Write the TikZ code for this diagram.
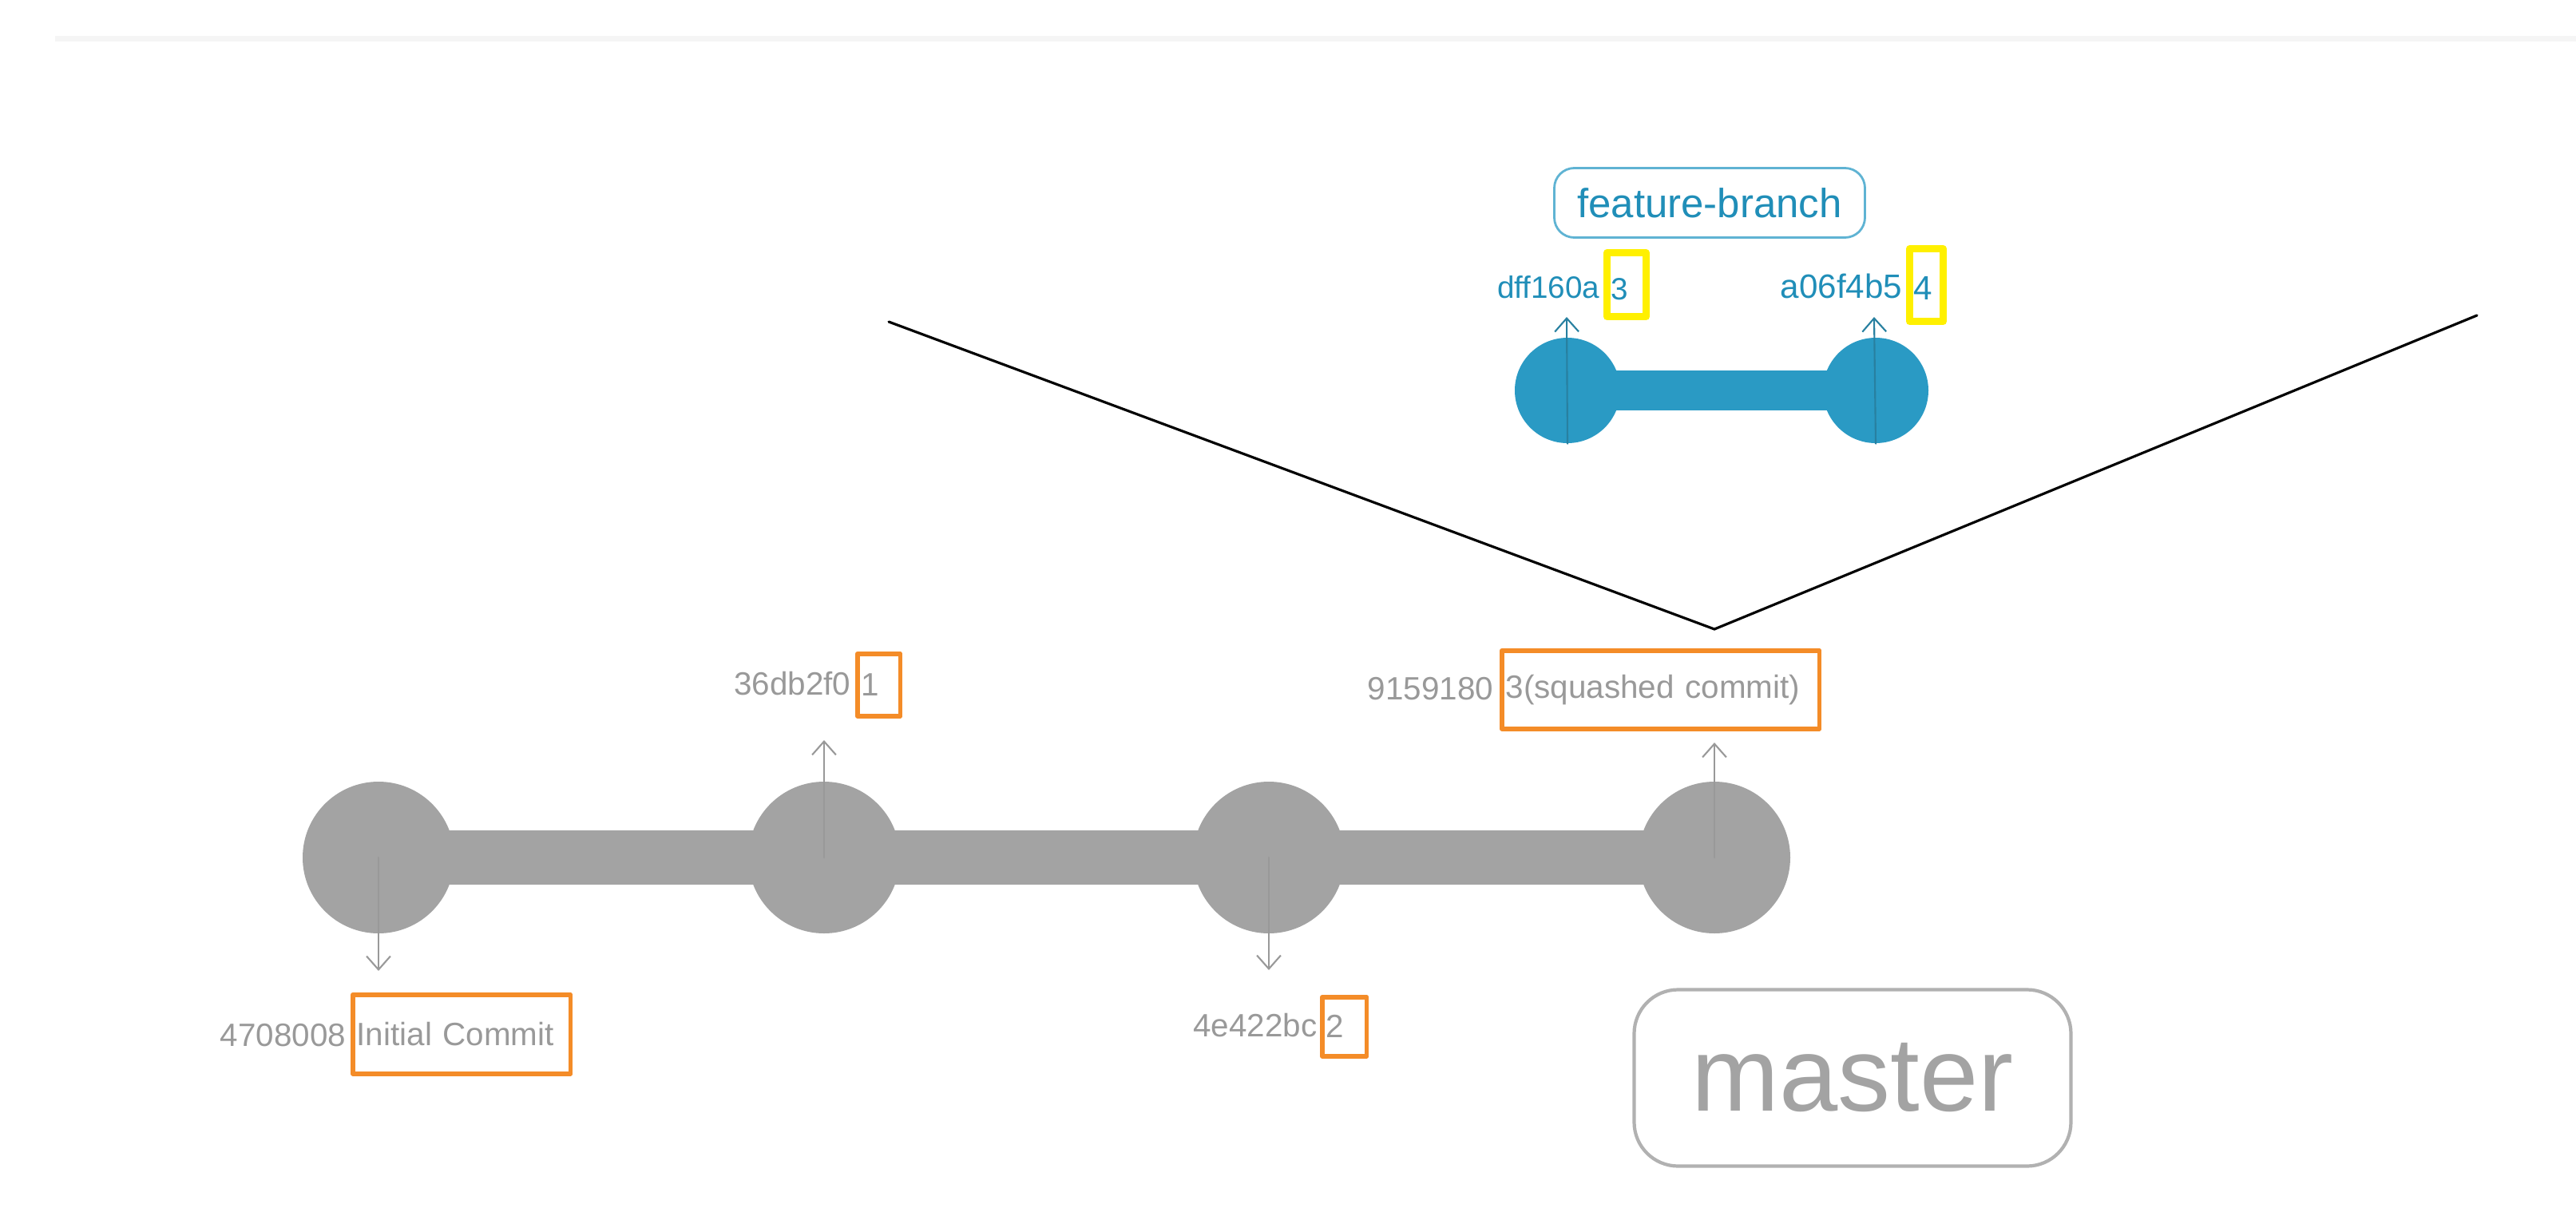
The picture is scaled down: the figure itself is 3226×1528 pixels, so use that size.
\documentclass[tikz,border=0pt]{standalone}
\usepackage{fontspec}
\setmainfont{Liberation Sans}
\usetikzlibrary{arrows.meta}
\definecolor{commitgray}{RGB}{163,163,163}
\definecolor{labelgray}{RGB}{153,153,153}
\definecolor{boxorange}{RGB}{244,140,40}
\definecolor{boxyellow}{RGB}{255,240,0}
\definecolor{branchblue}{RGB}{42,154,196}
\definecolor{branchtext}{RGB}{32,142,184}
\definecolor{branchline}{RGB}{40,128,160}
\definecolor{rulegray}{RGB}{245,245,245}
\tikzset{
  commit/.style={circle, fill=commitgray, minimum size=19mm, inner sep=0},
  fcommit/.style={circle, fill=branchblue, minimum size=13.2mm, inner sep=0},
  hashlbl/.style={text=labelgray, font=\fontsize{11.5}{13}\selectfont, inner sep=0, anchor=base east},
  fhashlbl/.style={text=branchtext, inner sep=0, anchor=base east},
  msgbox/.style={draw=boxorange, line width=1.6pt, text=labelgray, font=\fontsize{11.5}{13}\selectfont,
    inner xsep=1.4pt, inner ysep=0, align=left, anchor=north west},
  fmsgbox/.style={draw=boxyellow, line width=2.6pt, text=branchtext, text height=10.6pt,
    inner xsep=1.4pt, inner ysep=0, align=left, anchor=north west},
  ptr/.style={draw=labelgray, line width=0.6pt, -{Straight Barb[length=4.8pt,width=8.5pt]}},
  fptr/.style={draw=branchline, line width=0.6pt, -{Straight Barb[length=4.8pt,width=8.5pt]}},
}
\begin{document}
\begin{tikzpicture}[x=0.1mm, y=-0.1mm, line join=round, line cap=round]
\useasboundingbox (0,0) rectangle (3226,1528);
\fill[rulegray] (69,45) rectangle (3226,52);
% funnel
\coordinate (vl) at (1113,403);
\coordinate (vm) at (2147,788);
\coordinate (vr) at (3102,395);
\draw[line width=0.9pt, line join=miter] (vl) -- (vm) -- (vr);
% master commits
\node[commit] (c1) at (474,1074) {};
\node[commit] (c2) at (1032,1074) {};
\node[commit] (c3) at (1589,1074) {};
\node[commit] (c4) at (2147,1074) {};
\draw[commitgray, line width=19.3pt, line cap=butt] (c1.center) -- (c4.center);
\coordinate (t1) at (474,1216);
\coordinate (t2) at (1032,927);
\coordinate (t3) at (1589,1215);
\coordinate (t4) at (2147,930);
\foreach \c in {1,...,4}
  \draw[ptr] (c\c.center) -- (t\c);
% commit labels
\node[hashlbl] (h1) at (434,1310) {4708008};
\node[msgbox, text width=26.3mm, minimum height=9.9mm] (m1) at (439,1243) {Initial Commit};
\node[hashlbl] (h2) at (1066,870) {36db2f0};
\node[msgbox, text width=4.4mm, minimum height=7.8mm] (m2) at (1071,816) {1};
\node[hashlbl] (h3) at (1650,1298) {4e422bc};
\node[msgbox, text width=4.6mm, minimum height=7.4mm] (m3) at (1653,1246) {2};
\node[hashlbl] (h4) at (1871,876) {9159180};
\node[msgbox, text width=38.8mm, minimum height=9.8mm] (m4) at (1878,812) {3(squashed commit)};
\node[draw=commitgray!85, line width=1.2pt, rounded corners=5.5mm, text=commitgray,
  font=\fontsize{37.5}{40}\selectfont, minimum width=54.7mm, minimum height=22.1mm] (master) at (2320,1350) {master};
% feature branch
\node[fcommit] (f1) at (1963,489) {};
\node[fcommit] (f2) at (2349,489) {};
\draw[branchblue, line width=14.2pt, line cap=butt] (f1.center) -- (f2.center);
\coordinate (ft1) at (1962,397);
\coordinate (ft2) at (2347,397);
\draw[fptr] (f1.south) -- (ft1);
\draw[fptr] (f2.south) -- (ft2);
\node[fhashlbl, font=\fontsize{11}{13}\selectfont] (fh1) at (2004,373) {dff160a};
\node[fmsgbox, font=\fontsize{11}{13}\selectfont, text width=3.9mm, minimum height=8mm] (fm1) at (2008,312) {3};
\node[fhashlbl, font=\fontsize{12}{14}\selectfont] (fh2) at (2383,373) {a06f4b5};
\node[fmsgbox, font=\fontsize{12}{14}\selectfont, text width=3.2mm, minimum height=9.1mm] (fm2) at (2387,307) {4};
\node[draw=branchblue!75, line width=0.8pt, rounded corners=2.5mm, text=branchtext,
  font=\fontsize{14.5}{16}\selectfont, minimum width=38.9mm, minimum height=8.7mm] (fb) at (2141,254) {feature-branch};
\end{tikzpicture}
\end{document}
